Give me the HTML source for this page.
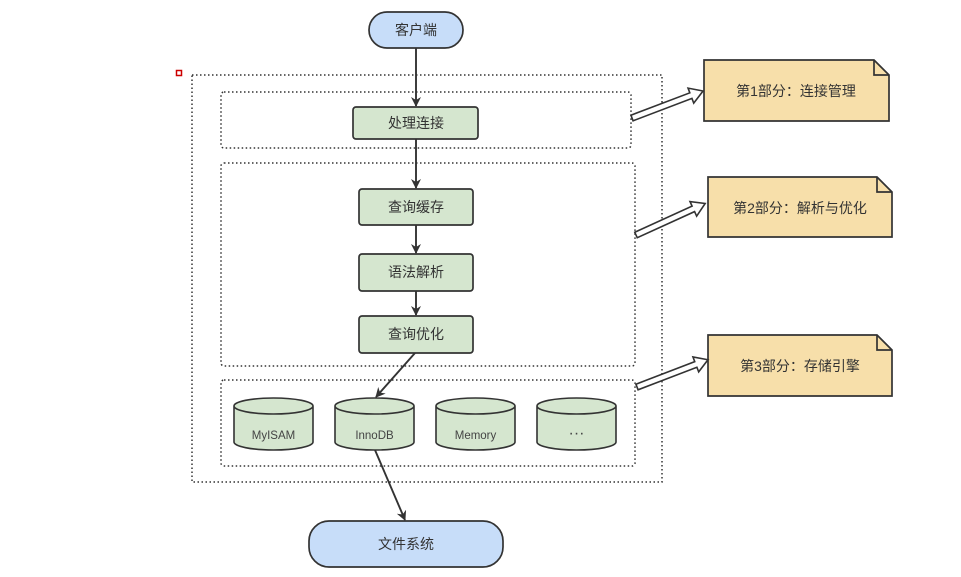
<!DOCTYPE html>
<html><head><meta charset="utf-8"><style>
html,body{margin:0;padding:0;background:#fff;}
svg{display:block;font-family:"Liberation Sans","Noto Sans CJK SC",sans-serif;}
</style></head><body>
<svg width="961" height="577" viewBox="0 0 961 577" xmlns="http://www.w3.org/2000/svg">
<defs>
<marker id="ah" markerWidth="10" markerHeight="10" refX="9" refY="5" orient="auto" markerUnits="userSpaceOnUse">
<path d="M0,0 L10,5 L0,10 L3,5 Z" fill="#333"/>
</marker>
</defs>
<rect x="176.5" y="70.5" width="5" height="5" fill="none" stroke="#c00" stroke-width="1.5"/>
<g fill="none" stroke="#333" stroke-width="1.5" stroke-dasharray="1.5,2.5">
<rect x="192" y="75" width="470" height="407"/>
<rect x="221" y="92" width="410" height="56" rx="3"/>
<rect x="221" y="163" width="414" height="203" rx="3"/>
<rect x="221" y="380" width="414" height="86" rx="3"/>
</g>
<g stroke="#333" stroke-width="1.9" fill="none">
<line x1="416" y1="48" x2="416" y2="106" marker-end="url(#ah)"/>
<line x1="416" y1="139" x2="416" y2="188" marker-end="url(#ah)"/>
<line x1="416" y1="225" x2="416" y2="253" marker-end="url(#ah)"/>
<line x1="416" y1="291" x2="416" y2="315" marker-end="url(#ah)"/>
<line x1="415" y1="353" x2="376" y2="397" marker-end="url(#ah)"/>
<line x1="375" y1="450" x2="405" y2="520" marker-end="url(#ah)"/>
</g>
<rect x="369" y="12" width="94" height="36" rx="18" fill="#c7ddf9" stroke="#333" stroke-width="1.7"/>
<text x="416" y="35" font-size="14" text-anchor="middle" fill="#333">客户端</text>
<g fill="#d5e6cf" stroke="#333" stroke-width="1.7">
<rect x="353" y="107" width="125" height="32" rx="3"/>
<rect x="359" y="189" width="114" height="36" rx="3"/>
<rect x="359" y="254" width="114" height="37" rx="3"/>
<rect x="359" y="316" width="114" height="37" rx="3"/>
</g>
<g font-size="14" text-anchor="middle" fill="#333">
<text x="416" y="128">处理连接</text>
<text x="416" y="212">查询缓存</text>
<text x="416" y="277">语法解析</text>
<text x="416" y="339">查询优化</text>
</g>
<g fill="#d5e6cf" stroke="#333" stroke-width="1.6">
<path d="M234,406 L234,442 A39.5,8 0 0 0 313,442 L313,406 A39.5,8 0 0 0 234,406 A39.5,8 0 0 0 313,406"/>
<path d="M335,406 L335,442 A39.5,8 0 0 0 414,442 L414,406 A39.5,8 0 0 0 335,406 A39.5,8 0 0 0 414,406"/>
<path d="M436,406 L436,442 A39.5,8 0 0 0 515,442 L515,406 A39.5,8 0 0 0 436,406 A39.5,8 0 0 0 515,406"/>
<path d="M537,406 L537,442 A39.5,8 0 0 0 616,442 L616,406 A39.5,8 0 0 0 537,406 A39.5,8 0 0 0 616,406"/>
</g>
<g font-size="11.5" text-anchor="middle" fill="#444">
<text x="273.5" y="439">MyISAM</text>
<text x="374.5" y="439">InnoDB</text>
<text x="475.5" y="439">Memory</text>
<text x="576.5" y="438" font-size="16">···</text>
</g>
<rect x="309" y="521" width="194" height="46" rx="20" fill="#c7ddf9" stroke="#333" stroke-width="1.7"/>
<text x="406" y="549" font-size="14" text-anchor="middle" fill="#333">文件系统</text>
<g fill="#f7dfaa" stroke="#333" stroke-width="1.7">
<path d="M704,60 L874,60 L889,75 L889,121 L704,121 Z"/>
<path d="M874,60 L874,75 L889,75" fill="none"/>
<path d="M708,177 L877,177 L892,192 L892,237 L708,237 Z"/>
<path d="M877,177 L877,192 L892,192" fill="none"/>
<path d="M708,335 L877,335 L892,350 L892,396 L708,396 Z"/>
<path d="M877,335 L877,350 L892,350" fill="none"/>
</g>
<g font-size="14" text-anchor="middle" fill="#333">
<text x="796" y="96">第1部分：连接管理</text>
<text x="800" y="213">第2部分：解析与优化</text>
<text x="800" y="371">第3部分：存储引擎</text>
</g>
<g fill="#fff" stroke="#333" stroke-width="1.6">
<path transform="translate(632,118) rotate(-20.8)" d="M0,-3 L63,-3 L63,-8 L76,0 L63,8 L63,3 L0,3 Z"/>
<path transform="translate(636,235) rotate(-24.5)" d="M0,-3 L63,-3 L63,-8 L76,0 L63,8 L63,3 L0,3 Z"/>
<path transform="translate(637,387) rotate(-21)" d="M0,-3 L63,-3 L63,-8 L76,0 L63,8 L63,3 L0,3 Z"/>
</g>
</svg>
</body></html>
